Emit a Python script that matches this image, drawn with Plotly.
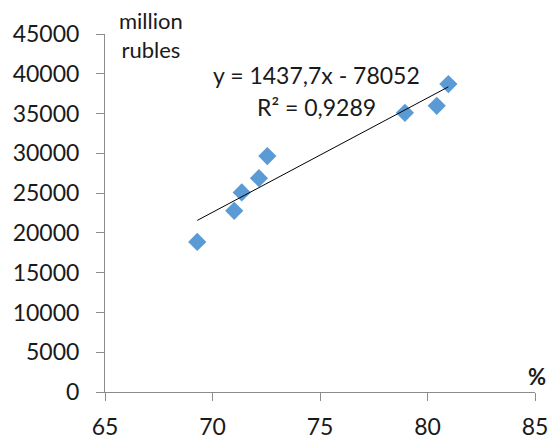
import plotly.graph_objects as go

# Data
share_pct = [69.29, 71.01, 71.36, 72.16, 72.55, 78.95, 80.43, 80.97]
value_mln_rub = [18870, 22770, 25080, 26880, 29650, 35090, 35970, 38700]

slope = 1437.7
intercept = -78052
r_squared_label = "R² = 0,9289"
equation_label = "y = 1437,7x - 78052"

x_ticks = [65, 70, 75, 80, 85]
y_ticks = [0, 5000, 10000, 15000, 20000, 25000, 30000, 35000, 40000, 45000]
y_tick_labels = [str(v) for v in y_ticks]

font_family = "Lato"

trend_x = [min(share_pct), max(share_pct)]
trend_y = [slope * x + intercept for x in trend_x]

fig = go.Figure()
fig.add_trace(go.Scatter(
    x=share_pct, y=value_mln_rub, mode="markers",
    marker=dict(symbol="diamond", size=14, color="#5B9BD5", line=dict(width=0)),
    showlegend=False, hoverinfo="skip",
))
fig.add_trace(go.Scatter(
    x=trend_x, y=trend_y, mode="lines",
    line=dict(color="black", width=1),
    showlegend=False, hoverinfo="skip",
))

fig.update_layout(
    width=549, height=439,
    margin=dict(l=105, r=14, t=34, b=47),
    paper_bgcolor="white", plot_bgcolor="white",
    font=dict(family=font_family, size=23, color="#1a1a1a"),
    xaxis=dict(
        range=[65, 85], tickvals=x_ticks, showgrid=False, zeroline=False,
        showline=True, linecolor="#8c8c8c", linewidth=1, automargin=False,
        ticks="outside", ticklen=8, tickcolor="#8c8c8c", ticklabelstandoff=6,
    ),
    yaxis=dict(
        range=[0, 45000], tickvals=y_ticks, ticktext=y_tick_labels,
        showgrid=False, zeroline=False, automargin=False,
        showline=True, linecolor="#8c8c8c", linewidth=1,
        ticks="outside", ticklen=8, tickcolor="#8c8c8c", ticklabelstandoff=12,
    ),
    annotations=[
        dict(xref="paper", yref="paper", x=(316 - 105) / 430, y=(392 - 75) / 358,
             text=equation_label, showarrow=False, xanchor="center", yanchor="middle",
             font=dict(size=23)),
        dict(xref="paper", yref="paper", x=(316 - 105) / 430, y=(392 - 107) / 358,
             text=r_squared_label, showarrow=False, xanchor="center", yanchor="middle",
             font=dict(size=23)),
        dict(xref="paper", yref="paper", x=(151 - 105) / 430, y=(392 - 35) / 358,
             text="million<br>rubles", showarrow=False, xanchor="center", yanchor="middle",
             font=dict(size=22)),
        dict(xref="paper", yref="paper", x=(537 - 105) / 430, y=(392 - 376) / 358,
             text="<b>%</b>", showarrow=False, xanchor="center", yanchor="middle",
             font=dict(size=22)),
    ],
)

fig.write_html(
    "out.html",
    config={"displayModeBar": False, "staticPlot": True},
    post_script="document.body.style.margin='0';document.body.style.overflow='hidden';",
)
